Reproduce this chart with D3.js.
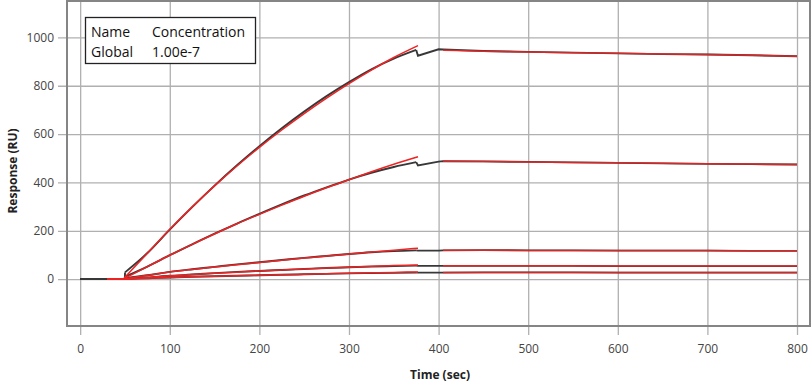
<!DOCTYPE html>
<html><head><meta charset="utf-8">
<script src="https://cdn.jsdelivr.net/npm/d3@7"></script>
<style>
html,body{margin:0;padding:0;background:#fff;}
svg{display:block;font-family:"Open Sans",sans-serif;}
</style></head>
<body><svg id="chart" width="812" height="389"></svg>
<script>
// ---- data ----
const xTicks = [0,100,200,300,400,500,600,700,800];
const yTicks = [0,200,400,600,800,1000];
const legendHeader = ["Name","Concentration"];
const legendRow = ["Global","1.00e-7"];
const xTitle = "Time (sec)";
const yTitle = "Response (RU)";

// measured (black) sensorgrams, by phase
const dataBaseTime = [0, 50];
const dataAssocTime = [50,75,100,125,150,175,200,225,250,275,300,325,350,375];
const dataDissocTime = [375,377,400,405,450,500,550,600,650,700,750,800];
const dataAssoc1 = [28,108,205,298,387,471,550,624,693,757,815,868,912,948];
const dataAssoc2 = [10,52,99,144,188,230,270,309,346,380,412,440,464,484];
const dataAssoc3 = [4,16,30,41,51,61,70,79,88,96,104,111,116,119];
const dataAssoc4 = [2,7,14,19,25,30,34,38,42,46,49,52,54,56];
const dataAssoc5 = [1,4,7,10,12,14,16,18,20,22,24,25,26,27];
const dataDissoc1 = [948,924,951,950,944,940,937,934,931,929,926,922];
const dataDissoc2 = [484,470,486,488,487,485,483,481,479,477,476,474];
const dataDissoc3 = [119,118,118,119,120,119,119,118,118,118,117,117];
const dataDissoc4 = [56,55,55,55,55,55,55,54,54,54,54,54];
const dataDissoc5 = [27,27,27,27,28,28,28,27,27,27,27,27];

// fitted (red) curves
const fitBaseTime = [30, 48];
const fitAssocTime = [48,75,100,125,150,175,200,225,250,275,300,325,350,377];
const fitAssoc1 = [0,107,206,299,386,468,545,617,685,749,809,865,917,966];
const fitAssoc2 = [0,52,99,144,187,229,268,306,343,378,411,444,475,506];
const fitAssoc3 = [0,16,30,40,50,60,69,78,87,96,104,112,120,128];
const fitAssoc4 = [0,7,14,19,24,29,34,38,42,46,49,53,56,59];
const fitAssoc5 = [0,4,7,10,12,14,16,18,20,22,24,26,28,30];
const fitDissocTime = [405,450,500,550,600,650,700,750,800];
const fitDissoc1 = [947,943,940,937,934,931,929,926,922];
const fitDissoc2 = [488,487,485,483,481,479,477,476,474];
const fitDissoc3 = [120,120,119,119,118,118,118,117,117];
const fitDissoc4 = [55,55,55,55,54,54,54,54,54];
const fitDissoc5 = [28,28,28,28,27,27,27,27,27];

// ---- layout ----
const svg = d3.select("#chart");
const L = 67, R = 810, T = 1, B = 326;
const x = d3.scaleLinear().domain([-14.7, 814.5]).range([L, R]);
const y = d3.scaleLinear().domain([-193.8, 1150.6]).range([B, T]);

const gridColor = "#b0b0b0";
const ya = svg.append("g").attr("transform", `translate(${R},0)`)
  .call(d3.axisLeft(y).tickValues(yTicks).tickSize(R - 58).tickPadding(4).tickFormat(d3.format("d")));
ya.select(".domain").remove();
ya.selectAll("line").attr("stroke", gridColor).attr("stroke-width", 1.3);
ya.selectAll("text").attr("fill", "#444").style("font-size", "12px").style("font-family", "'Open Sans',sans-serif");

const xa = svg.append("g").attr("transform", `translate(0,${T})`)
  .call(d3.axisBottom(x).tickValues(xTicks).tickSize(335 - T).tickPadding(9.5).tickFormat(d3.format("d")));
xa.select(".domain").remove();
xa.selectAll("line").attr("stroke", gridColor).attr("stroke-width", 1.3);
xa.selectAll("text").attr("fill", "#444").style("font-size", "12px").style("font-family", "'Open Sans',sans-serif");

// lines
const smooth = d3.line().x(d => x(d[0])).y(d => y(d[1])).curve(d3.curveMonotoneX);
const straight = d3.line().x(d => x(d[0])).y(d => y(d[1]));
const zipT = (ts, vs) => ts.map((t, i) => [t, vs[i]]);

const plot = svg.append("g");
const blackColor = "#383838";
const assocSets = [dataAssoc1, dataAssoc2, dataAssoc3, dataAssoc4, dataAssoc5];
const dissocSets = [dataDissoc1, dataDissoc2, dataDissoc3, dataDissoc4, dataDissoc5];
assocSets.forEach((vs, k) => {
  // baseline then injection step
  const base = zipT(dataBaseTime, [0, 0]).concat([[dataAssocTime[0], vs[0]]]);
  const p = plot.append("g").attr("fill", "none").attr("stroke", blackColor).attr("stroke-width", 1.9);
  p.append("path").attr("d", straight(base));
  p.append("path").attr("d", smooth(zipT(dataAssocTime, vs)));
  p.append("path").attr("d", straight(zipT(dataDissocTime, dissocSets[k])));
});

const redColor = "#ef2323";
[fitAssoc1, fitAssoc2, fitAssoc3, fitAssoc4, fitAssoc5].forEach(vs => {
  const p = plot.append("g").attr("fill", "none").attr("stroke", redColor).attr("stroke-width", 1.5);
  p.append("path").attr("d", straight(zipT(fitBaseTime, [0, 0])));
  p.append("path").attr("d", smooth(zipT(fitAssocTime, vs)));
});
[fitDissoc1, fitDissoc2, fitDissoc3, fitDissoc4, fitDissoc5].forEach(vs => {
  plot.append("path").attr("d", smooth(zipT(fitDissocTime, vs)))
    .attr("fill", "none").attr("stroke", redColor).attr("stroke-width", 1.5).attr("stroke-opacity", 0.9);
});

// frame
svg.append("rect").attr("x", L).attr("y", T).attr("width", R - L).attr("height", B - T)
  .attr("fill", "none").attr("stroke", "#858585").attr("stroke-width", 2);

// legend
const lg = svg.append("g");
lg.append("rect").attr("x", 85.5).attr("y", 17.5).attr("width", 170).attr("height", 46)
  .attr("fill", "#fff").attr("stroke", "#222").attr("stroke-width", 1.3);
const colX = [91, 152];
legendHeader.forEach((t, i) => lg.append("text").attr("x", colX[i]).attr("y", 37).text(t)
  .style("font-size", "14px").attr("fill", "#111"));
legendRow.forEach((t, i) => lg.append("text").attr("x", colX[i]).attr("y", 57).text(t)
  .style("font-size", "14px").attr("fill", "#111"));

// axis titles
svg.append("text").attr("x", 440).attr("y", 379).attr("text-anchor", "middle")
  .style("font-size", "12px").style("font-weight", "bold").attr("fill", "#222").text(xTitle);
svg.append("text").attr("transform", "translate(17,171) rotate(-90)").attr("text-anchor", "middle")
  .style("font-size", "12px").style("font-weight", "bold").attr("fill", "#222").text(yTitle);
</script></body></html>
